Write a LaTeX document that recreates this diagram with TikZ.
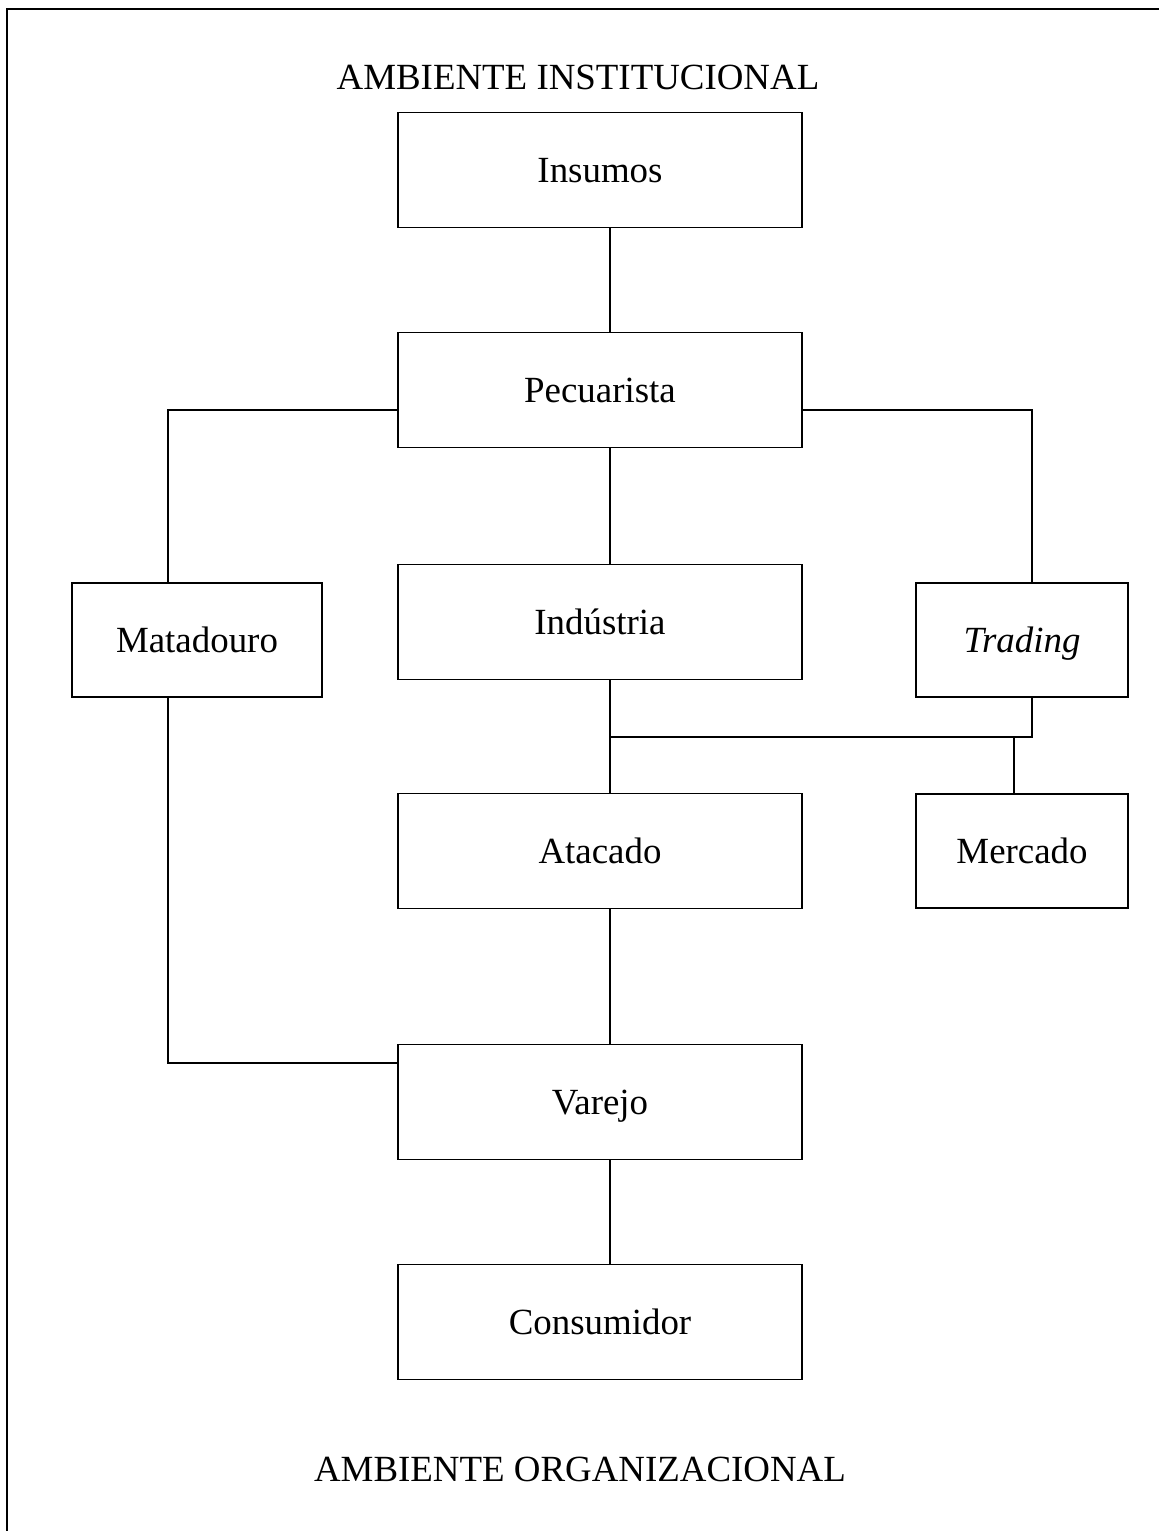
\documentclass[tikz,border=0pt]{standalone}
\usepackage{fontspec}
\setmainfont{Liberation Serif}
\usepackage{tikz}
\usetikzlibrary{positioning,calc}
\tikzset{
  box/.style   ={draw, rectangle, line width=0.9pt, align=center, fill=white, minimum height=2.3cm, minimum width=8.08cm, inner sep=0pt, outer sep=0pt, text height=14pt, text depth=0pt, font=\fontsize{21}{25}\selectfont},
  sidebox/.style={box, minimum width=5cm, minimum height=2.28cm},
  mktbox/.style={box, minimum width=4.24cm, minimum height=2.28cm},
  title/.style ={font=\fontsize{21}{25}\selectfont},
  link/.style  ={draw, line width=0.9pt},
  frame/.style ={draw, line width=1.3pt},
}

\begin{document}
\begin{tikzpicture}[x=0.02cm, y=-0.02cm]
    \useasboundingbox (0,0) rectangle (1159,1531);
    \draw[frame] (7,1531) -- (7,9) -- (1159,9);

    % column guides
    \coordinate (spine) at (610,0);
    \coordinate (lcol) at (168,0);
    \coordinate (rcol) at (1032,0);
    \coordinate (mcol) at (1014,0);
    \coordinate (jn) at (610,737);

    \node[title] (inst) at (578,77) {AMBIENTE INSTITUCIONAL};
    \node[box] (ins) at (600,170) {Insumos};
    \node[box] (pec) at (600,390) {Pecuarista};
    \node[sidebox] (mat) at (197,640) {Matadouro};
    \node[box] (ind) at (600,622) {Indústria};
    \node[mktbox] (trd) at (1022,640) {\textit{Trading}};
    \node[box] (ata) at (600,851) {Atacado};
    \node[mktbox] (mer) at (1022,851) {Mercado};
    \node[box] (var) at (600,1102) {Varejo};
    \node[box] (con) at (600,1322) {Consumidor};
    \node[title] (org) at (580,1469) {AMBIENTE ORGANIZACIONAL};

    \draw[link] (ins.south -| spine) -- (pec.north -| spine);
    \draw[link] ($(pec.west)+(0,20)$) -| (mat.north -| lcol);
    \draw[link] ($(pec.east)+(0,20)$) -| (trd.north -| rcol);
    \draw[link] (pec.south -| spine) -- (ind.north -| spine);
    \draw[link] (ind.south -| spine) -- (ata.north -| spine);
    \draw[link] (trd.south -| rcol) |- (jn);
    \draw[link] (jn -| mcol) -- (mer.north -| mcol);
    \draw[link] (mat.south -| lcol) |- ($(var.west)+(0,-39)$);
    \draw[link] (ata.south -| spine) -- (var.north -| spine);
    \draw[link] (var.south -| spine) -- (con.north -| spine);
  \end{tikzpicture}
\end{document}
